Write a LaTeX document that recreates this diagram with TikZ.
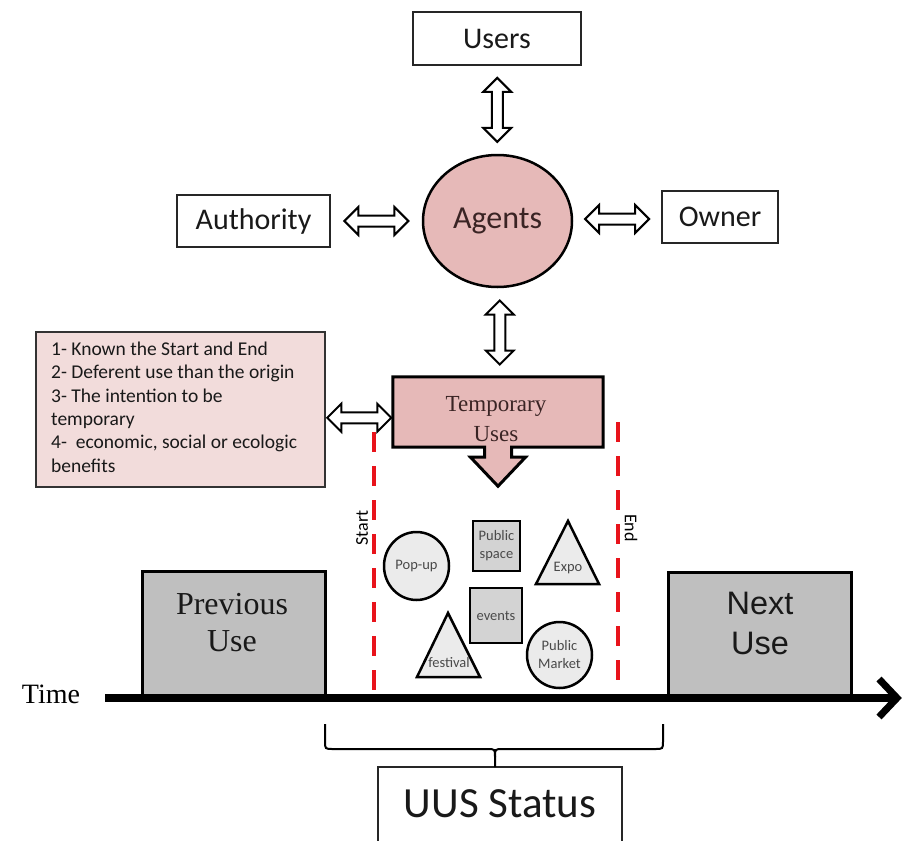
\documentclass[tikz,border=0pt]{standalone}
\usepackage{fontspec}
\usetikzlibrary{calc,backgrounds,shapes.geometric}
\newfontfamily\calib{Carlito}
\newfontfamily\tnr{Liberation Serif}
\newfontfamily\arial{Liberation Sans}
\definecolor{agentpink}{HTML}{E6B9B8}
\definecolor{critpink}{HTML}{F2DCDB}
\definecolor{usegray}{HTML}{BFBFBF}
\definecolor{boxgray}{HTML}{D3D3D3}
\definecolor{shapegray}{HTML}{EBEBEB}
\definecolor{dashred}{HTML}{E8131B}
\definecolor{inkbrown}{HTML}{3A2424}
\definecolor{smallink}{HTML}{4A4A4A}

\tikzset{
  plainbox/.style={draw=black!85, line width=2, fill=white, inner sep=0,
    text=black!90, font=\calib\fontsize{30}{36}\selectfont},
  agentnode/.style={ellipse, draw=black, line width=2.5, fill=agentpink, inner sep=0,
    text=inkbrown, font=\calib\fontsize{32}{38}\selectfont},
  usebox/.style={draw=black, line width=3, fill=usegray, inner sep=0},
  smallshape/.style={draw=black, line width=2.5, fill=shapegray},
  smallsquare/.style={draw=black, line width=2.5, fill=boxgray, inner sep=0},
  smalltext/.style={text=smallink, align=center, inner sep=0,
    font=\calib\fontsize{14.5}{18}\selectfont},
  marker/.style={dashred, line width=4, dash pattern=on 20pt off 14pt},
  sidelabel/.style={inner sep=0, font=\calib\fontsize{18}{20}\selectfont},
  hollowarrow/.style={draw=black, line width=2, fill=white, line join=miter},
  pics/dblarrow/.style={code={
    \draw[hollowarrow] (-32,0) -- (-18,14) -- (-18,5.5) -- (18,5.5) -- (18,14)
      -- (32,0) -- (18,-14) -- (18,-5.5) -- (-18,-5.5) -- (-18,-14) -- cycle;}}
}

\begin{document}
\begin{tikzpicture}[x=1pt,y=-1pt]
\useasboundingbox (0,0) rectangle (903,841);
\clip (0,0) rectangle (903,841);

% agents and the parties around them
\node[plainbox, minimum width=168, minimum height=53] (users) at (497,38.5) {Users};
\node[plainbox, minimum width=153, minimum height=52] (auth) at (253.5,221) {Authority};
\node[plainbox, minimum width=116, minimum height=52] (owner) at (720,217) {Owner};
\node[agentnode, minimum width=149, minimum height=132] (agents) at (497.5,221) {Agents};

% temporary uses box with its downward arrow
\node[minimum width=210, minimum height=70, inner sep=0] (temp) at (498,412) {};
\node[align=center, inner sep=0, text=inkbrown, font=\tnr\fontsize{23}{30}\selectfont]
  (temptxt) at (496,419) {Temporary\\Uses};
\begin{scope}[on background layer]
\draw[fill=agentpink, draw=black, line width=3, line join=miter]
  (temp.north west) -- (temp.north east) -- (temp.south east)
  -- ($(temp.south)+(13.5,0)$) -- ++(0,10) -- ++(14,0)
  -- ($(temp.south)+(0,39)$)
  -- ($(temp.south)+(-27.5,10)$) -- ++(14,0) -- ++(0,-10)
  -- (temp.south west) -- cycle;
\end{scope}

% criteria box
\node[draw=black!80, line width=1.5, fill=critpink, minimum width=289,
  minimum height=155, inner sep=0] (crit) at (180.5,409.5) {};
\node[anchor=west, align=left, inner sep=0, text=black!90,
  font=\calib\fontsize{19.5}{23.4}\selectfont] (crittxt) at (51,407)
  {1- Known the Start and End\\
   2- Deferent use than the origin\\
   3- The intention to be\\
   temporary\\
   4-\ \ economic, social or ecologic\\
   benefits};

% two-headed hollow arrows between the boxes
\pic[rotate=90] at ($(users.south)!0.5!(agents.north)$) {dblarrow};
\pic at ($(auth.east)!0.5!(agents.west)$) {dblarrow};
\pic at ($(agents.east)!0.5!(owner.west)$) {dblarrow};
\pic[rotate=90] at ($(agents.south)!0.5!(temp.north)+(2,0)$) {dblarrow};
\pic at ($(crit.east)!0.5!(temp.west)+(0,7)$) {dblarrow};

% start / end markers
\coordinate (s0) at (374,432);
\coordinate (s1) at (374,698);
\coordinate (e0) at (618,422);
\coordinate (e1) at (618,698);
\draw[marker] (s0) -- (s1);
\draw[marker] (e0) -- (e1);
\node[sidelabel, rotate=90] (startlbl) at (362,528) {Start};
\node[sidelabel, rotate=-90] (endlbl) at (631,528) {End};

% kinds of temporary use
\node[ellipse, smallshape, minimum width=65, minimum height=68, inner sep=0] (popup) at (416.5,566) {};
\node[smalltext] at (popup) {Pop-up};
\node[smallsquare, minimum width=47, minimum height=50] (pubspace) at (496.5,546) {};
\node[smalltext] at (pubspace) {Public\\space};
\node[smallsquare, minimum width=52, minimum height=55] (events) at (496,615.5) {};
\node[smalltext] at (events) {events};
\node[ellipse, smallshape, minimum width=65, minimum height=66, inner sep=0] (market) at (559.5,655) {};
\node[smalltext] at (market) {Public\\Market};
\draw[smallshape, line join=miter] (568,521) -- (599,584) -- (536,584) -- cycle;
\node[smalltext] (expo) at (568,568) {Expo};
\draw[smallshape, line join=miter] (448,613) -- (480,677) -- (417,677) -- cycle;
\node[smalltext] (festival) at (449,663) {festival};

% previous and next use
\node[usebox, minimum width=183, minimum height=127] (prev) at (233.5,634.5) {};
\node[align=center, inner sep=0, text=black!90, font=\tnr\fontsize{32}{37}\selectfont]
  (prevtxt) at (232,623) {Previous\\Use};
\node[usebox, minimum width=183, minimum height=126] (next) at (759.5,635) {};
\node[align=center, inner sep=0, text=black!90, font=\arial\fontsize{32.5}{40}\selectfont]
  (nexttxt) at (760,623.5) {Next\\Use};

% time axis
\coordinate (t0) at (105,698);
\coordinate (t1) at (897,698);
\draw[line width=8] (t0) -- (t1);
\draw[line width=7, line join=miter] (879,679) -- (t1) -- (879,717);
\node[inner sep=0, font=\tnr\fontsize{28}{30}\selectfont] (timelbl) at (51,694) {Time};

% status box and brace
\node[draw=black!85, line width=2, fill=white, minimum width=244, minimum height=83,
  inner sep=0] (uus) at (500,808.5) {};
\node[inner sep=0, text=black!90, font=\calib\fontsize{43}{48}\selectfont] (uustxt) at (500,804) {UUS Status};
\coordinate (bt) at (495,767);
\draw[line width=2] (325,724) -- (325,741) .. controls (325,749) .. (333,749)
  -- (487,749) .. controls (495,749) .. (495,757) -- (bt);
\draw[line width=2] (663,724) -- (663,741) .. controls (663,749) .. (655,749)
  -- (503,749) .. controls (495,749) .. (495,757);
\end{tikzpicture}
\end{document}
